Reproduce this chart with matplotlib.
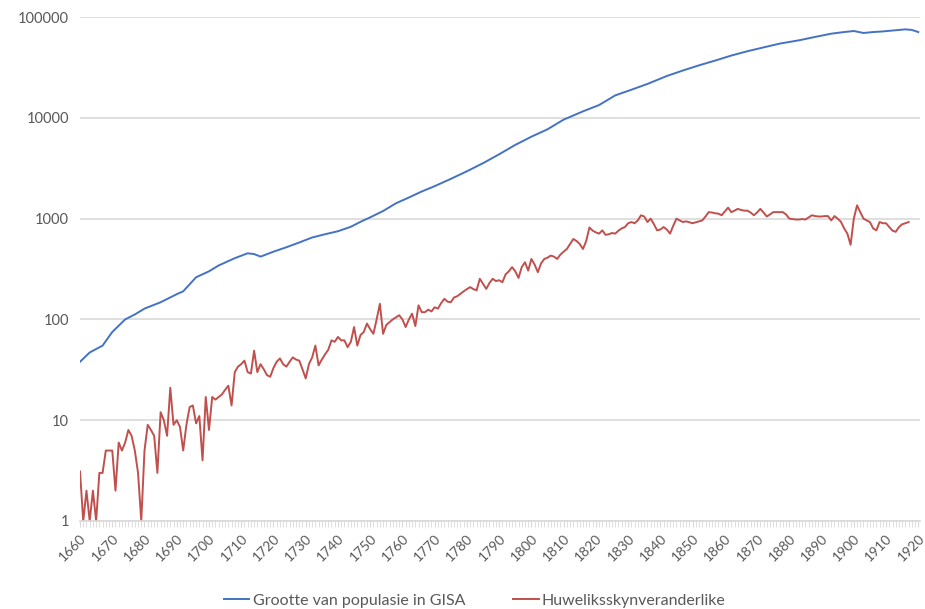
import matplotlib.pyplot as plt
from matplotlib.ticker import FixedLocator, MultipleLocator, NullFormatter

# bevolkingsgrootte (blou lyn), afgelees van die grafiek
blue_years = [1660, 1663, 1667, 1670, 1674, 1677, 1680, 1685, 1690, 1692, 1696, 1700,
              1703, 1708, 1712, 1714, 1716, 1720, 1724, 1728, 1732, 1736, 1740, 1744,
              1747, 1750, 1754, 1758, 1762, 1766, 1770, 1775, 1780, 1785, 1790, 1795,
              1800, 1805, 1810, 1816, 1821, 1826, 1831, 1836, 1842, 1847, 1852, 1857,
              1862, 1867, 1872, 1877, 1883, 1888, 1893, 1897, 1900, 1903, 1906, 1909,
              1913, 1916, 1918, 1920]
blue_vals = [38, 47, 55, 75, 100, 112, 128, 148, 178, 190, 262, 300,
             343, 405, 453, 445, 420, 470, 520, 580, 650, 700, 750, 830,
             930, 1030, 1190, 1420, 1620, 1860, 2100, 2480, 2950, 3550, 4350, 5390,
             6500, 7700, 9600, 11600, 13400, 16700, 19000, 21700, 26000, 29500, 33200, 37000,
             41500, 45800, 50000, 54500, 58800, 63500, 68400, 71000, 72700, 69500, 71000, 72000,
             74000, 75500, 74500, 71000]

# huweliksskynveranderlike (rooi lyn), een waarde per jaar vanaf 1660
red_start = 1660
red_vals = [3.1, 1, 2, 1, 2, 1, 3, 3, 5, 5,
            5, 2, 6, 5, 6, 8, 7, 5, 3, 1,
            5, 9, 8, 7, 3, 12, 10, 7, 21, 9,
            10, 8.6, 5, 9, 13.5, 14, 9.3, 11, 4, 17,
            8, 17, 16, 17, 18, 20, 22, 14, 30, 34,
            36, 39, 30, 29, 49, 30, 36, 32, 28, 27,
            33, 38, 41, 36, 34, 38, 42, 40, 39, 32,
            26, 36, 42, 55, 35, 40, 45, 50, 62, 60,
            67, 62, 62, 53, 60, 84, 55, 70, 75, 91,
            80, 72, 100, 143, 72, 88, 94, 100, 105, 110,
            100, 84, 100, 114, 86, 138, 118, 118, 125, 120,
            132, 128, 145, 160, 150, 148, 165, 170, 180, 190,
            200, 209, 200, 194, 253, 225, 201, 230, 253, 240,
            245, 234, 280, 300, 330, 300, 258, 330, 369, 305,
            398, 350, 294, 360, 398, 410, 430, 420, 398, 440,
            470, 500, 560, 628, 600, 560, 500, 600, 818, 760,
            730, 710, 765, 690, 700, 720, 710, 760, 800, 825,
            900, 925, 900, 960, 1080, 1050, 925, 1000, 880, 765,
            780, 825, 780, 710, 850, 1000, 960, 925, 940, 920,
            900, 920, 940, 960, 1050, 1160, 1150, 1130, 1120, 1080,
            1180, 1285, 1160, 1200, 1250, 1220, 1200, 1200, 1150, 1080,
            1150, 1250, 1150, 1050, 1100, 1160, 1160, 1160, 1160, 1100,
            1000, 990, 980, 980, 990, 980, 1030, 1080, 1060, 1050,
            1050, 1060, 1060, 960, 1060, 1000, 930, 800, 710, 550,
            1000, 1355, 1160, 1000, 960, 925, 800, 765, 925, 900,
            900, 825, 760, 740, 825, 880, 900, 925]
red_years = list(range(red_start, red_start + len(red_vals)))

labels = ['Grootte van populasie in GISA', 'Huweliksskynveranderlike']
y_ticks = [1, 10, 100, 1000, 10000, 100000]
x_ticks = list(range(1660, 1921, 10))

plt.rcParams['font.family'] = ['Lato', 'DejaVu Sans']
txt = '#595959'
grid = '#d9d9d9'

fig = plt.figure(figsize=(9.25, 6.09), dpi=100)
ax = fig.add_axes([0.0865, 0.1445, 0.908, 0.8275])

ax.plot(blue_years, blue_vals, color='#4472c4', lw=1.4, label=labels[0])
ax.plot(red_years, red_vals, color='#c0504d', lw=1.4, label=labels[1])

ax.set_yscale('log')
ax.set_ylim(1, 100000)
ax.set_xlim(1660, 1920.5)
ax.yaxis.set_major_locator(FixedLocator(y_ticks))
ax.yaxis.set_minor_locator(FixedLocator([]))
ax.set_yticklabels([str(v) for v in y_ticks])
ax.xaxis.set_major_locator(FixedLocator(x_ticks))
ax.xaxis.set_minor_locator(MultipleLocator(1))
ax.xaxis.set_minor_formatter(NullFormatter())
ax.set_xticklabels([str(v) for v in x_ticks], rotation=45, ha='right',
                   rotation_mode='anchor')

ax.grid(axis='y', color=grid, lw=1.2)
ax.set_axisbelow(True)
for s in ['top', 'right', 'left']:
    ax.spines[s].set_visible(False)
ax.spines['bottom'].set_color(grid)
ax.spines['bottom'].set_linewidth(1.2)

ax.tick_params(axis='y', length=0, pad=8, labelsize=10.5, labelcolor=txt)
ax.tick_params(axis='x', which='both', length=4, color=grid, direction='out',
               labelsize=10, labelcolor=txt, pad=4)

ax.legend(loc='lower center', bbox_to_anchor=(0.47, -0.185), ncol=2, frameon=False,
          fontsize=11.5, labelcolor=txt, handlelength=1.6, handletextpad=0.2,
          columnspacing=3.0, borderaxespad=0)

fig.savefig('out.png', dpi=100)
